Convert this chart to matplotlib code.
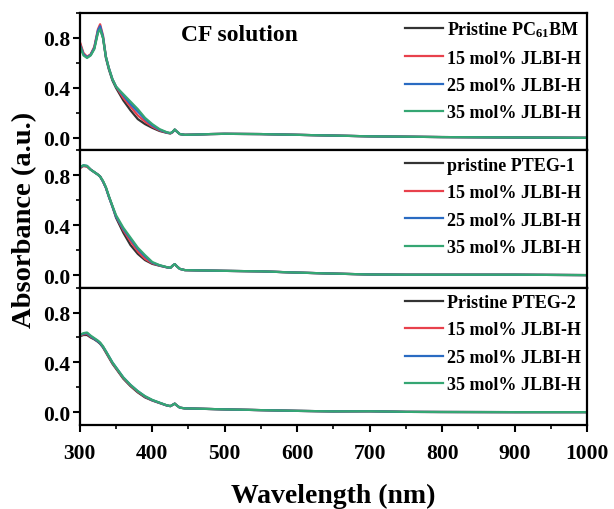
import matplotlib
matplotlib.use("Agg")
import matplotlib.pyplot as plt
from matplotlib.ticker import MultipleLocator

plt.rcParams['font.family'] = ['Liberation Serif', 'DejaVu Serif']
plt.rcParams['font.weight'] = 'bold'
plt.rcParams['mathtext.fontset'] = 'custom'
plt.rcParams['mathtext.rm'] = 'Liberation Serif:bold'
plt.rcParams['mathtext.it'] = 'Liberation Serif:italic:bold'
plt.rcParams['mathtext.default'] = 'rm'

# wavelength grid (nm) shared by all curves
wl = [300, 305, 310, 315, 320, 325, 328, 332, 336, 340, 345, 350, 360, 370, 380, 390,
      400, 410, 420, 425, 428, 431, 434, 438, 445, 460, 480, 500, 550, 600, 650, 700,
      750, 800, 900, 1000]

tail_a = [0.03, 0.024, 0.026, 0.03, 0.032, 0.03, 0.024, 0.018, 0.012, 0.009, 0.006, 0.003, 0.0]
tail_b = [0.05, 0.04, 0.038, 0.036, 0.034, 0.03, 0.02, 0.012, 0.005, 0.003, 0.003, 0.003, 0.0]
tail_c = [0.038, 0.032, 0.03, 0.027, 0.024, 0.018, 0.012, 0.008, 0.009, 0.004, 0.003, 0.002, 0.002]

# CF solution, PC61BM
pcbm_0 = [0.76, 0.67, 0.645, 0.665, 0.72, 0.85, 0.88, 0.80, 0.64, 0.55, 0.46, 0.40, 0.30, 0.22,
          0.15, 0.11, 0.08, 0.055, 0.04, 0.035, 0.045, 0.065, 0.05] + tail_a
pcbm_15 = [0.77, 0.68, 0.65, 0.67, 0.73, 0.87, 0.91, 0.82, 0.65, 0.56, 0.47, 0.41, 0.32, 0.25,
           0.18, 0.13, 0.09, 0.06, 0.042, 0.036, 0.046, 0.066, 0.05] + tail_a
pcbm_25 = [0.75, 0.67, 0.645, 0.665, 0.72, 0.86, 0.895, 0.81, 0.65, 0.56, 0.47, 0.41, 0.34, 0.27,
           0.21, 0.15, 0.10, 0.065, 0.043, 0.037, 0.047, 0.066, 0.05] + tail_a
pcbm_35 = [0.74, 0.66, 0.64, 0.66, 0.71, 0.84, 0.87, 0.80, 0.65, 0.56, 0.47, 0.41, 0.35, 0.29,
           0.23, 0.16, 0.11, 0.07, 0.045, 0.038, 0.048, 0.067, 0.05] + tail_a

# PTEG-1
pteg1_0 = [0.86, 0.875, 0.87, 0.845, 0.825, 0.805, 0.79, 0.75, 0.70, 0.63, 0.55, 0.46, 0.34, 0.24,
           0.17, 0.12, 0.09, 0.075, 0.062, 0.058, 0.075, 0.088, 0.07] + tail_b
pteg1_15 = [0.855, 0.875, 0.87, 0.845, 0.825, 0.805, 0.79, 0.75, 0.70, 0.63, 0.55, 0.47, 0.36, 0.27,
            0.19, 0.13, 0.095, 0.077, 0.063, 0.058, 0.075, 0.088, 0.07] + tail_b
pteg1_25 = [0.86, 0.88, 0.875, 0.845, 0.825, 0.805, 0.79, 0.75, 0.70, 0.63, 0.55, 0.47, 0.37, 0.29,
            0.21, 0.15, 0.10, 0.078, 0.063, 0.058, 0.075, 0.088, 0.07] + tail_b
pteg1_35 = [0.865, 0.88, 0.875, 0.845, 0.825, 0.805, 0.79, 0.755, 0.705, 0.635, 0.555, 0.48, 0.38, 0.30,
            0.22, 0.16, 0.105, 0.08, 0.064, 0.058, 0.075, 0.088, 0.07] + tail_b

# PTEG-2
pteg2_0 = [0.61, 0.62, 0.62, 0.60, 0.585, 0.565, 0.55, 0.52, 0.48, 0.44, 0.39, 0.35, 0.27, 0.21,
           0.16, 0.12, 0.095, 0.075, 0.055, 0.05, 0.06, 0.07, 0.055] + tail_c
pteg2_15 = [0.615, 0.625, 0.63, 0.605, 0.59, 0.57, 0.555, 0.525, 0.485, 0.445, 0.395, 0.355, 0.275, 0.215,
            0.165, 0.125, 0.097, 0.076, 0.056, 0.05, 0.06, 0.07, 0.055] + tail_c
pteg2_25 = [0.62, 0.63, 0.635, 0.61, 0.59, 0.57, 0.555, 0.525, 0.49, 0.45, 0.40, 0.36, 0.28, 0.22,
            0.17, 0.128, 0.098, 0.077, 0.056, 0.05, 0.06, 0.07, 0.055] + tail_c
pteg2_35 = [0.62, 0.635, 0.64, 0.615, 0.595, 0.575, 0.56, 0.53, 0.49, 0.45, 0.40, 0.36, 0.28, 0.22,
            0.17, 0.13, 0.10, 0.078, 0.057, 0.05, 0.06, 0.07, 0.055] + tail_c

panels = [
    (["Pristine PC$_{61}$BM", "15 mol% JLBI-H", "25 mol% JLBI-H", "35 mol% JLBI-H"],
     [pcbm_0, pcbm_15, pcbm_25, pcbm_35]),
    (["pristine PTEG-1", "15 mol% JLBI-H", "25 mol% JLBI-H", "35 mol% JLBI-H"],
     [pteg1_0, pteg1_15, pteg1_25, pteg1_35]),
    (["Pristine PTEG-2", "15 mol% JLBI-H", "25 mol% JLBI-H", "35 mol% JLBI-H"],
     [pteg2_0, pteg2_15, pteg2_25, pteg2_35]),
]
colors = ['#333333', '#e8414c', '#2a6bc2', '#35a673']

fig = plt.figure(figsize=(6.14, 5.10), dpi=100)
axes = fig.subplots(3, 1, sharex=True)
fig.subplots_adjust(left=0.130, right=0.956, top=0.9725, bottom=0.165, hspace=0)

for i, ax in enumerate(axes):
    labels, series = panels[i]
    for lab, ys, c in zip(labels, series, colors):
        ax.plot(wl, ys, color=c, lw=1.6, label=lab)
    ax.set_xlim(300, 1000)
    ax.set_ylim(-0.1, 1.0)
    ax.yaxis.set_major_locator(MultipleLocator(0.4))
    ax.yaxis.set_minor_locator(MultipleLocator(0.2))
    ax.xaxis.set_major_locator(MultipleLocator(100))
    ax.xaxis.set_minor_locator(MultipleLocator(50))
    for s in ax.spines.values():
        s.set_linewidth(1.6)
    ax.tick_params(axis='y', which='major', direction='out', length=5, width=1.5, labelsize=15.5, pad=2)
    ax.tick_params(axis='y', which='minor', direction='out', length=3, width=1.2)
    if i < 2:
        ax.tick_params(axis='x', which='both', bottom=False, labelbottom=False)
    else:
        ax.tick_params(axis='x', which='major', direction='out', length=5, width=1.5, labelsize=15.5, pad=8)
        ax.tick_params(axis='x', which='minor', direction='out', length=3, width=1.2)
    ax.legend(loc='upper right', frameon=False, fontsize=13, handlelength=2.1,
              handletextpad=0.2, labelspacing=0.58, borderaxespad=0.0, borderpad=0.35)

axes[0].text(0.315, 0.80, "CF solution", transform=axes[0].transAxes, fontsize=17,
             fontweight='bold', ha='center')
axes[1].set_ylabel("Absorbance (a.u.)", fontsize=20.5, fontweight='bold', labelpad=4)
axes[2].set_xlabel("Wavelength (nm)", fontsize=20, fontweight='bold', labelpad=14)

fig.savefig("out.png", dpi=100)
